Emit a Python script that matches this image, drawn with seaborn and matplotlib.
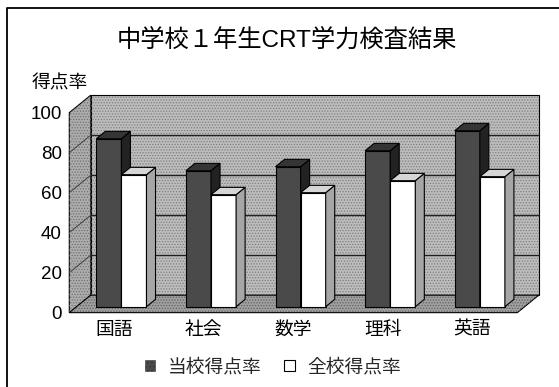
import matplotlib
matplotlib.use("Agg")
import matplotlib.pyplot as plt
from matplotlib.patches import Polygon, Patch
from matplotlib.lines import Line2D
import pandas as pd
import seaborn as sns

# ---- data -------------------------------------------------------------
subjects = ["国語", "社会", "数学", "理科", "英語"]
school_rate = [84, 68, 70, 78, 88]    # 当校得点率
overall_rate = [66, 56, 57, 63, 65]   # 全校得点率
series_names = ["当校得点率", "全校得点率"]
y_ticks = [0, 20, 40, 60, 80, 100]
title = "中学校１年生CRT学力検査結果"
y_title = "得点率"

sns.set_theme(style="white")
plt.rcParams["font.family"] = ["Liberation Sans", "Noto Sans CJK JP", "DejaVu Sans"]
plt.rcParams["hatch.linewidth"] = 0.6

df = pd.DataFrame({
    "教科": subjects * 2,
    "系列": [series_names[0]] * len(subjects) + [series_names[1]] * len(subjects),
    "得点率": school_rate + overall_rate,
})

W, H = 559, 387
fig = plt.figure(figsize=(W / 100, H / 100), dpi=100)
fig.patch.set_facecolor("white")

# axes box in pixels
px_left, px_right, py_top, py_bottom = 66, 545, 88, 316
ax = fig.add_axes([px_left / W, 1 - py_bottom / H,
                   (px_right - px_left) / W, (py_bottom - py_top) / H])

dark_front, dark_side, dark_top = "#4a4a4a", "#222222", "#353535"
light_front, light_side, light_top = "#ffffff", "#a6a6a6", "#d6d6d6"

sns.barplot(data=df, x="教科", y="得点率", hue="系列",
            palette=[dark_front, light_front], width=0.56, gap=0,
            edgecolor="black", linewidth=0.8, saturation=1,
            legend=False, ax=ax, zorder=3)

# scale: one category = 89.6 px, one point = 2 px (bar plane)
cat_px, val_px = 89.6, 2.0
x0_px, y0_px = 121.4, 306.7
ax.set_xlim((px_left - x0_px) / cat_px, (px_right - x0_px) / cat_px)
ax.set_ylim((y0_px - py_bottom) / val_px, (y0_px - py_top) / val_px)

# oblique depth: full floor depth, plane of bar fronts, bar thickness
DX, DY = 21.5 / cat_px, 17.5 / val_px
BAR_PLANE, BAR_DEPTH = 0.34, 0.42


def proj(x, y, d):
    return (x + (d - BAR_PLANE) * DX, y + (d - BAR_PLANE) * DY)


n = len(subjects)
x_lo, x_hi = -0.5, n - 0.5


def face(points, fc, z, hatch_color=None, lw=0.8):
    ax.add_patch(Polygon(points, closed=True, facecolor=fc,
                         edgecolor="black", linewidth=lw, zorder=z))
    if hatch_color is not None:
        ax.add_patch(Polygon(points, closed=True, fill=False, hatch="......",
                             edgecolor=hatch_color, linewidth=0, zorder=z))


# walls and floor
face([proj(x_lo, 0, 1), proj(x_hi, 0, 1), proj(x_hi, 100, 1), proj(x_lo, 100, 1)],
     "#bdbdbd", 0.5, "#7e7e7e")
face([proj(x_lo, 0, 0), proj(x_lo, 0, 1), proj(x_lo, 100, 1), proj(x_lo, 100, 0)],
     "#adadad", 0.5, "#707070")
face([proj(x_lo, 0, 0), proj(x_hi, 0, 0), proj(x_hi, 0, 1), proj(x_lo, 0, 1)],
     "#a0a0a0", 0.5, "#606060")

# gridlines on back wall and left wall
for v in y_ticks[1:-1]:
    (ax1, ay1), (ax2, ay2) = proj(x_lo, v, 1), proj(x_hi, v, 1)
    ax.plot([ax1, ax2], [ay1, ay2], color="#202020", lw=1.0, zorder=0.7)
    (bx1, by1), (bx2, by2) = proj(x_lo, v, 0), proj(x_lo, v, 1)
    ax.plot([bx1, bx2], [by1, by2], color="#404040", lw=0.7, zorder=0.7)

# 3-D sides and tops of the bars
bdx, bdy = BAR_DEPTH * DX, BAR_DEPTH * DY
shades = [(dark_side, dark_top), (light_side, light_top)]
for k, container in enumerate(ax.containers):
    side_c, top_c = shades[k]
    for rect in container:
        x, w, h = rect.get_x(), rect.get_width(), rect.get_height()
        z = 3 + k
        rect.set_zorder(z)
        face([(x + w, 0), (x + w + bdx, bdy), (x + w + bdx, h + bdy), (x + w, h)],
             side_c, z)
        face([(x, h), (x + w, h), (x + w + bdx, h + bdy), (x + bdx, h + bdy)],
             top_c, z)

# axis labels on the front edge
ax.set_yticks([proj(x_lo, v, 0)[1] for v in y_ticks],
              labels=[str(v) for v in y_ticks])
ax.set_xticks([proj(i, 0, 0)[0] for i in range(n)], labels=subjects)
ax.tick_params(axis="y", length=0, pad=3, labelsize=13.5, colors="black")
ax.tick_params(axis="x", length=0, pad=4, labelsize=13.5, colors="black")
ax.set_xlabel("")
ax.set_ylabel(y_title, rotation=0, fontsize=13.5, color="black",
              ha="center", va="center")
ax.yaxis.set_label_coords((59.5 - px_left) / (px_right - px_left),
                          (py_bottom - 84) / (py_bottom - py_top))
for s in ax.spines.values():
    s.set_visible(False)
ax.grid(False)
ax.set_facecolor("none")

fig.text(286.7 / W, 1 - 40 / H, title, ha="center", va="center",
         fontsize=17.5, color="black")

handles = [Patch(facecolor=dark_front, edgecolor="#333333", linewidth=0.4,
                 hatch="...."),
           Patch(facecolor=light_front, edgecolor="black", linewidth=0.8)]
fig.legend(handles, series_names, loc="center", ncol=2,
           bbox_to_anchor=(273 / W, 1 - 367.5 / H), frameon=False,
           fontsize=13.5, handlelength=0.55, handleheight=0.55,
           handletextpad=0.7, columnspacing=1.2)

# chart frame
fig.add_artist(Line2D([7 / W, 7 / W, 1], [0, 1 - 8 / H, 1 - 8 / H],
                      color="black", linewidth=1.3, transform=fig.transFigure))

fig.savefig("out.png", dpi=100)
